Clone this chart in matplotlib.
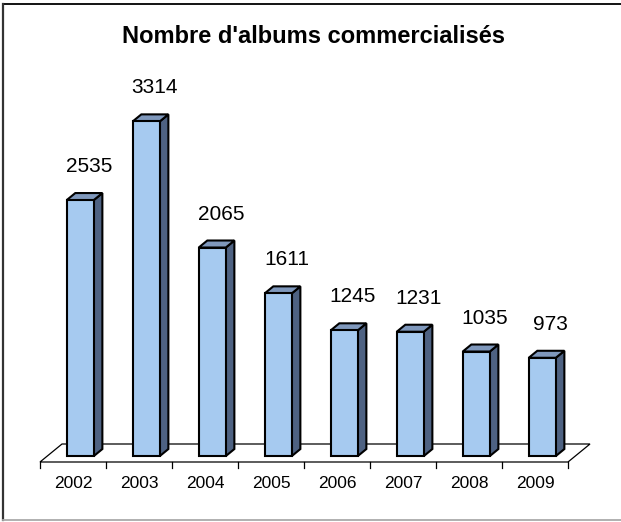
import matplotlib.pyplot as plt
from matplotlib.patches import Polygon
from matplotlib.lines import Line2D

plt.rcParams['font.family'] = ['Liberation Sans', 'DejaVu Sans']

years = ['2002', '2003', '2004', '2005', '2006', '2007', '2008', '2009']
albums = [2535, 3314, 2065, 1611, 1245, 1231, 1035, 973]
title = "Nombre d'albums commercialisés"

W, H = 621, 522
fig = plt.figure(figsize=(W / 100, H / 100), dpi=100)
ax = fig.add_axes([0, 0, 1, 1])
ax.axis('off')

# pixel layout of the fake 3d box
cat_px = 66.0        # width of one category
left_px = 40.0       # front-left corner of the floor
floor_px = 60.0      # floor front edge, from the bottom
vmax = 4575.0        # value at the top of the figure
px_per_val = (H - floor_px) / vmax

x0 = -0.5 - left_px / cat_px
ax.set_xlim(x0, x0 + W / cat_px)
ax.set_ylim(-floor_px / px_per_val, vmax)

# depth vector of the whole floor (data units)
ddx = 22.0 / cat_px
ddy = 18.0 / px_per_val


def proj(x, v, d):
    return (x + d * ddx, v + d * ddy)


# floor
n = len(years)
floor = [proj(-0.5, 0, 0), proj(n - 0.5, 0, 0), proj(n - 0.5, 0, 1), proj(-0.5, 0, 1)]
ax.add_patch(Polygon(floor, closed=True, facecolor='white', edgecolor='black',
                     lw=0.9, zorder=1))
tick_len = 6.0 / px_per_val
for i in range(n + 1):
    ax.plot([i - 0.5, i - 0.5], [0, -tick_len], color='black', lw=0.9, zorder=1)

# bars
hw = 0.205
d0, d1 = 0.33, 0.72
front_c = '#A6CAF0'
side_c = '#4E6282'
top_c = '#7F98BC'
for i, (yr, v) in enumerate(zip(years, albums)):
    front = [proj(i - hw, 0, d0), proj(i + hw, 0, d0), proj(i + hw, v, d0), proj(i - hw, v, d0)]
    side = [proj(i + hw, 0, d0), proj(i + hw, 0, d1), proj(i + hw, v, d1), proj(i + hw, v, d0)]
    top = [proj(i - hw, v, d0), proj(i + hw, v, d0), proj(i + hw, v, d1), proj(i - hw, v, d1)]
    for pts, c in [(side, side_c), (top, top_c), (front, front_c)]:
        ax.add_patch(Polygon(pts, closed=True, facecolor=c, edgecolor='black',
                             lw=1.5, joinstyle='miter', zorder=3))
    ax.annotate(str(v), xy=proj(i, v, d1), xytext=(0, 21), textcoords='offset pixels',
                ha='center', va='baseline', fontsize=15, color='black', zorder=4)
    ax.annotate(yr, xy=(i, 0), xytext=(0, -26), textcoords='offset pixels',
                ha='center', va='baseline', fontsize=12.5, color='black')

fig.text(314 / W, 1 - 43 / H, title, ha='center', va='baseline',
         fontsize=17, fontweight='bold')

# chart frame
fig.add_artist(Line2D([3 / W, 1], [1 - 4 / H, 1 - 4 / H], color='black', lw=1.3,
                      transform=fig.transFigure))
fig.add_artist(Line2D([3 / W, 3 / W], [1 - 4 / H, 1 - 520 / H], color='#333333', lw=1.6,
                      transform=fig.transFigure))
fig.add_artist(Line2D([3 / W, 1], [1 - 520 / H, 1 - 520 / H], color='#AAAAAA', lw=1.3,
                      transform=fig.transFigure))

fig.savefig('out.png', dpi=100)
